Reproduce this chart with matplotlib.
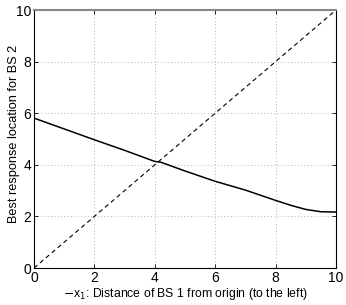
#!/usr/bin/env python3
"""
Best response location for BS 2 vs distance of BS 1
"""

import numpy as np
import matplotlib
matplotlib.use('Agg')
import matplotlib.pyplot as plt

plt.rcParams['font.family'] = ['Liberation Sans', 'DejaVu Sans']

dist_bs1 = [0, 1, 2, 3, 4, 4.2, 5, 6, 7, 8, 8.5, 9, 9.5, 10]
best_resp = [5.81, 5.39, 4.97, 4.56, 4.13, 4.10, 3.76, 3.36, 3.02, 2.62, 2.43, 2.27, 2.18, 2.17]
diag = [0, 10]

fig = plt.figure(figsize=(3.46, 3.05), dpi=100)
ax = fig.add_axes([34/346, 1 - 268/305, 302/346, 258/305])

ax.plot(dist_bs1, best_resp, color='black', lw=1.1)
ax.plot(diag, diag, color='black', lw=0.8, ls=(0, (4, 3)))

ax.set_xlim(0, 10)
ax.set_ylim(0, 10)
ax.set_xticks([0, 2, 4, 6, 8, 10])
ax.set_yticks([0, 2, 4, 6, 8, 10])
ax.grid(True, ls=(0, (1, 3)), color='#999999', lw=0.6)
ax.tick_params(direction='in', length=3, width=0.6, labelsize=10, pad=2,
               top=True, right=True)
for s in ax.spines.values():
    s.set_linewidth(0.8)
ax.spines['top'].set_color('#888888')
ax.spines['top'].set_linewidth(1.5)

ax.set_xlabel('$-$x$_1$: Distance of BS 1 from origin (to the left)', fontsize=8.8, labelpad=1)
ax.set_ylabel('Best response location for BS 2', fontsize=9.2)
ax.yaxis.set_label_coords(-0.045, 0.52)

plt.savefig('out.png', dpi=100)
